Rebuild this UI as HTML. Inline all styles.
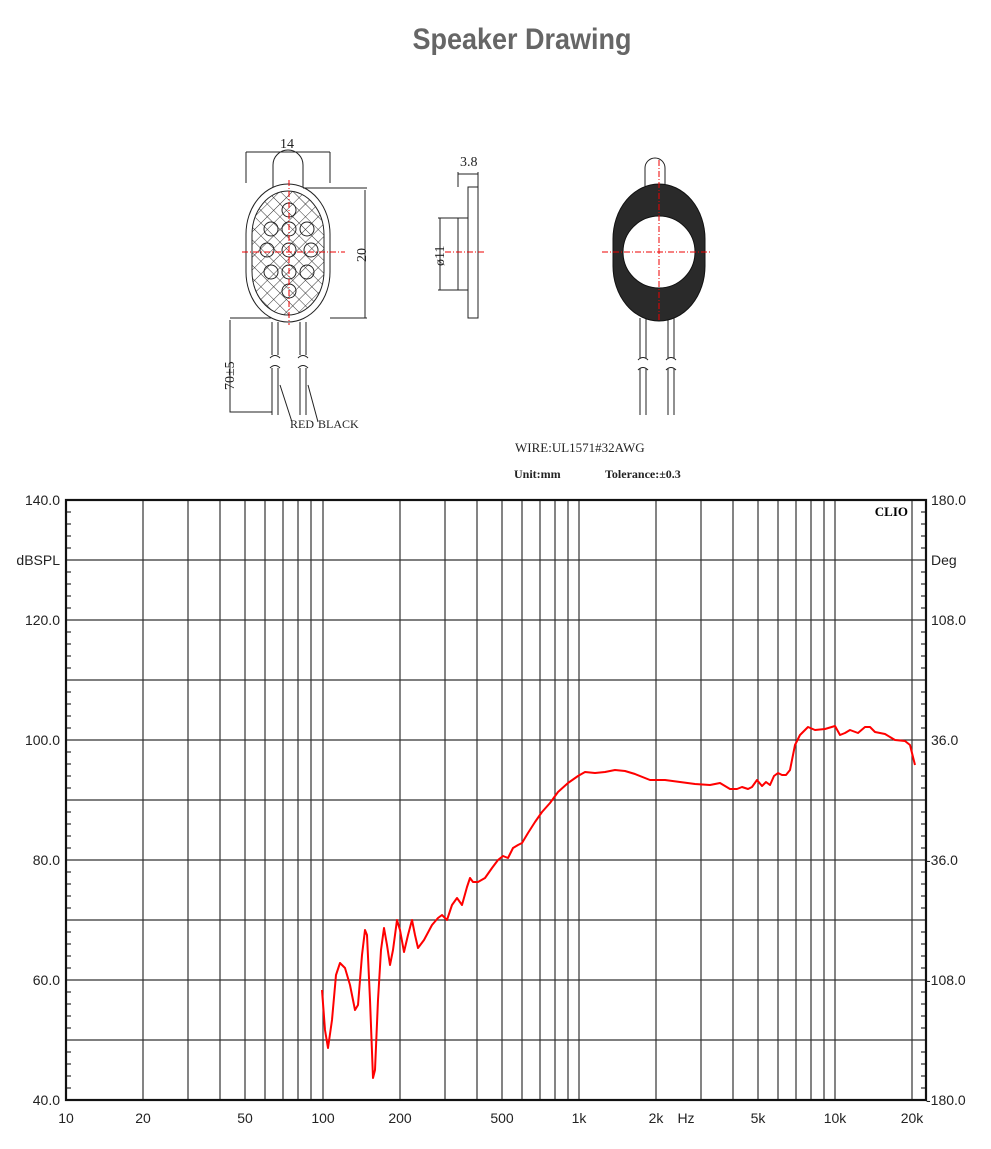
<!DOCTYPE html>
<html><head><meta charset="utf-8"><style>
body{margin:0;background:#fff;width:991px;height:1149px;overflow:hidden}
svg{position:absolute;left:0;top:0}
</style></head><body>
<svg width="991" height="1149" viewBox="0 0 991 1149" xmlns="http://www.w3.org/2000/svg">
<defs>
<pattern id="h" width="9" height="9" patternUnits="userSpaceOnUse" patternTransform="rotate(45)">
<path d="M0 0V9M0 0H9" stroke="#333" stroke-width="1"/></pattern>
</defs>
<text x="522" y="49" text-anchor="middle" font-family="Liberation Sans Narrow, Liberation Sans, sans-serif" font-weight="bold" font-size="30" fill="#666" transform="translate(522 0) scale(0.9 1) translate(-522 0)">Speaker Drawing</text>

<g fill="none" stroke="#222" stroke-width="1">
<path d="M273 190V165a15 15 0 0 1 30 0V190"/>
<rect x="246" y="184" width="84" height="138" rx="42" ry="50" fill="#fff"/>
<rect x="252" y="191" width="72" height="124" rx="36" ry="44" fill="url(#h)"/>
<g stroke-width="1">
<circle cx="289" cy="210" r="7"/><circle cx="271" cy="229" r="7"/><circle cx="289" cy="229" r="7"/><circle cx="307" cy="229" r="7"/>
<circle cx="267" cy="250" r="7"/><circle cx="289" cy="250" r="7"/><circle cx="311" cy="250" r="7"/>
<circle cx="271" cy="272" r="7"/><circle cx="289" cy="272" r="7"/><circle cx="307" cy="272" r="7"/><circle cx="289" cy="291" r="7"/>
</g>
<path d="M246 183V152M330 183V152M246 152H330M303 188H367M330 318H367M365 190V318M230 318H272M230 320V412H272"/>
<path d="M272 322V355M278 322V355M300 322V355M306 322V355M272 368V415M278 368V415M300 368V415M306 368V415"/>
<path d="M270 358q5-5 10 0M298 358q5-5 10 0M270 368q5-5 10 0M298 368q5-5 10 0"/>
<path d="M280 385L292 422M308 385L318 422"/>
<rect x="468" y="187" width="10" height="131"/>
<rect x="458" y="218" width="10" height="72"/>
<path d="M458 187V172M478 187V172M458 174H478M438 218H458M438 290H458M440 218V290"/>
<path d="M645 190V168a10 10 0 0 1 20 0V190"/>
<path d="M640 318V358M646 318V358M668 318V358M674 318V358M640 368V415M646 368V415M668 368V415M674 368V415"/>
<path d="M638 360q5-5 10 0M666 360q5-5 10 0M638 370q5-5 10 0M666 370q5-5 10 0"/>
</g>
<rect x="613" y="184" width="92" height="137" rx="46" ry="55" fill="#2a2a2a" stroke="#111"/>
<circle cx="659" cy="252" r="36" fill="#fff" stroke="#111"/>
<g stroke="#e00" stroke-width="1" stroke-dasharray="6,2,1,2">
<path d="M242 252H345M289 180V325M445 252H486M602 252H712M659 160V322"/>
</g>
<g font-family="Liberation Serif, serif" font-size="14" fill="#222">
<text x="280" y="148">14</text>
<text x="460" y="166">3.8</text>
<text transform="translate(366 262) rotate(-90)">20</text>
<text transform="translate(444 266) rotate(-90)">ø11</text>
<text transform="translate(234 390) rotate(-90)">70±5</text>
<text x="290" y="428" font-size="12">RED</text><text x="318" y="428" font-size="12">BLACK</text>
<text x="515" y="452" font-size="13">WIRE:UL1571#32AWG</text>
<text x="514" y="478" font-size="12" font-weight="bold">Unit:mm</text>
<text x="605" y="478" font-size="12" font-weight="bold">Tolerance:±0.3</text>
</g>

<g stroke="#333" stroke-width="1.2" fill="none">
<path d="M66 560H926M66 620H926M66 680H926M66 740H926M66 800H926M66 860H926M66 920H926M66 980H926M66 1040H926"/>
<path d="M143 500V1100M188 500V1100M220 500V1100M245 500V1100M265 500V1100M283 500V1100M298 500V1100M311 500V1100M323 500V1100M400 500V1100M445 500V1100M477 500V1100M502 500V1100M522 500V1100M540 500V1100M555 500V1100M568 500V1100M579 500V1100M656 500V1100M701 500V1100M733 500V1100M758 500V1100M778 500V1100M796 500V1100M811 500V1100M824 500V1100M835 500V1100M912 500V1100"/>
<path id="tk" d="M66 512H71M66 524H71M66 536H71M66 548H71M66 572H71M66 584H71M66 596H71M66 608H71M66 632H71M66 644H71M66 656H71M66 668H71M66 692H71M66 704H71M66 716H71M66 728H71M66 752H71M66 764H71M66 776H71M66 788H71M66 812H71M66 824H71M66 836H71M66 848H71M66 872H71M66 884H71M66 896H71M66 908H71M66 932H71M66 944H71M66 956H71M66 968H71M66 992H71M66 1004H71M66 1016H71M66 1028H71M66 1052H71M66 1064H71M66 1076H71M66 1088H71"/>
<path transform="translate(855 0)" d="M66 512H71M66 524H71M66 536H71M66 548H71M66 572H71M66 584H71M66 596H71M66 608H71M66 632H71M66 644H71M66 656H71M66 668H71M66 692H71M66 704H71M66 716H71M66 728H71M66 752H71M66 764H71M66 776H71M66 788H71M66 812H71M66 824H71M66 836H71M66 848H71M66 872H71M66 884H71M66 896H71M66 908H71M66 932H71M66 944H71M66 956H71M66 968H71M66 992H71M66 1004H71M66 1016H71M66 1028H71M66 1052H71M66 1064H71M66 1076H71M66 1088H71"/>
</g>
<rect x="66" y="500" width="860" height="600" fill="none" stroke="#111" stroke-width="2.2"/>
<polyline fill="none" stroke="#f00" stroke-width="2" stroke-linejoin="round" points="322,990 325,1030 328,1048 332,1020 336,975 340,963 345,968 350,985 355,1010 358,1005 362,955 365,930 367,935 370,1000 373,1078 375,1070 378,1000 381,950 384,928 387,945 390,965 393,950 397,920 400,930 404,952 408,935 412,920 415,935 418,948 424,940 432,925 438,918 442,915 447,920 452,905 457,898 462,905 467,887 470,878 473,882 478,882 485,878 492,868 498,860 503,856 508,858 513,848 518,845 522,843 528,833 535,822 542,812 550,803 558,792 568,783 578,776 585,772 595,773 605,772 615,770 625,771 635,774 650,780 665,780 680,782 695,784 710,785 720,783 730,789 737,789 742,787 748,789 752,787 757,780 762,786 766,782 770,785 774,776 778,773 782,775 786,775 790,770 795,745 800,735 808,727 815,730 825,729 835,726 840,735 845,733 850,730 858,733 865,727 870,727 875,732 885,734 895,740 905,741 910,745 915,765"/>
<text x="908" y="516" text-anchor="end" font-family="Liberation Serif, serif" font-weight="bold" font-size="13">CLIO</text>
<g font-family="Liberation Sans, sans-serif" font-size="14" fill="#222">
<g text-anchor="end">
<text x="60" y="505">140.0</text><text x="60" y="565">dBSPL</text><text x="60" y="625">120.0</text><text x="60" y="745">100.0</text><text x="60" y="865">80.0</text><text x="60" y="985">60.0</text><text x="60" y="1105">40.0</text>
</g>
<text x="931" y="505">180.0</text><text x="931" y="565">Deg</text><text x="931" y="625">108.0</text><text x="931" y="745">36.0</text><text x="926" y="865">-36.0</text><text x="926" y="985">-108.0</text><text x="926" y="1105">-180.0</text>
<g text-anchor="middle">
<text x="66" y="1123">10</text><text x="143" y="1123">20</text><text x="245" y="1123">50</text><text x="323" y="1123">100</text><text x="400" y="1123">200</text><text x="502" y="1123">500</text><text x="579" y="1123">1k</text><text x="656" y="1123">2k</text><text x="686" y="1123">Hz</text><text x="758" y="1123">5k</text><text x="835" y="1123">10k</text><text x="912" y="1123">20k</text>
</g>
</g>
</svg>
</body></html>
